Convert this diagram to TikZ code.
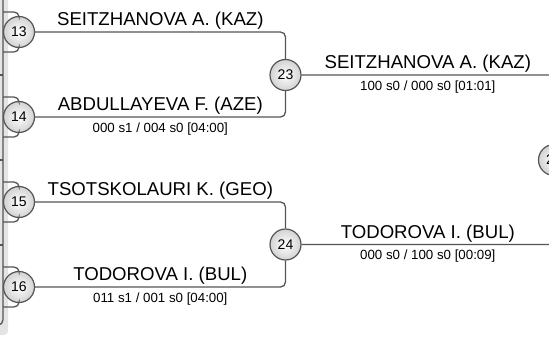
\documentclass[tikz,border=0pt]{standalone}
\usepackage{fontspec}
\setmainfont{Liberation Sans}
\definecolor{linegray}{HTML}{555555}
\definecolor{panelgray}{HTML}{E4E4E4}

\begin{document}
\begin{tikzpicture}[x=1pt, y=-1pt,
	match/.style={circle, draw=linegray, line width=1.2pt, minimum size=31pt, inner sep=0pt, inner color=white, outer color=gray!35, font=\fontsize{14}{16}\selectfont},
	bracket/.style={draw=linegray, line width=1.3pt, rounded corners=5pt},
	player/.style={anchor=base, inner sep=0pt, yshift=6.5pt, font=\fontsize{18.6}{20}\selectfont},
	score/.style={anchor=base, inner sep=0pt, yshift=-15pt, font=\fontsize{13.3}{15}\selectfont}]
	\useasboundingbox (0,0) rectangle (549,340);
	\clip (0,0) rectangle (549,340);
	\fill[white] (0,0) rectangle (549,340);
	\fill[panelgray, rounded corners=4pt] (-10,-10) rectangle (8,335);
	\draw[bracket] (3,-10) -- (3,325) -- (-10,325);
	\foreach \y in {75,160,245} {\draw[bracket] (-5,\y) -- (3,\y);}
	\foreach \n/\y in {13/32,14/117,15/202,16/287} {
		\node[match] (c\n) at (19,\y) {\n};
		\coordinate (u\n) at (3,\y-20);
		\coordinate (d\n) at (3,\y+20);
		\draw[bracket] (u\n) -- (u\n -| c\n) -- (c\n);
		\draw[bracket] (d\n) -- (d\n -| c\n) -- (c\n);
	}
	\node[match] (c23) at (285.5,75) {23};
	\node[match] (c24) at (285.5,244.5) {24};
	\node[match] (c28) at (554,160) {28};
	\draw[bracket] (c13) -- node[player] {SEITZHANOVA A. (KAZ)} (c13 -| c23) -- (c23);
	\draw[bracket] (c14) -- node[player] {ABDULLAYEVA F. (AZE)} node[score] {000 s1 / 004 s0 [04:00]} (c14 -| c23) -- (c23);
	\draw[bracket] (c15) -- node[player] {TSOTSKOLAURI K. (GEO)} (c15 -| c24) -- (c24);
	\draw[bracket] (c16) -- node[player] {TODOROVA I. (BUL)} node[score] {011 s1 / 001 s0 [04:00]} (c16 -| c24) -- (c24);
	\draw[bracket] (c23) -- node[player] {SEITZHANOVA A. (KAZ)} node[score] {100 s0 / 000 s0 [01:01]} (c23 -| c28) -- (c28);
	\draw[bracket] (c24) -- node[player] {TODOROVA I. (BUL)} node[score] {000 s0 / 100 s0 [00:09]} (c24 -| c28) -- (c28);
\end{tikzpicture}
\end{document}
